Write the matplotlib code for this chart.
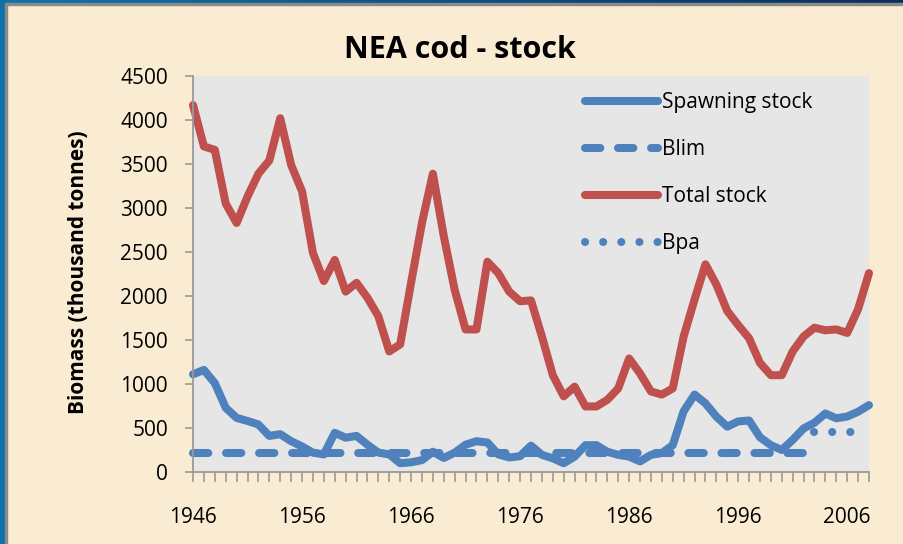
import numpy as np
import matplotlib
matplotlib.use("Agg")
import matplotlib.pyplot as plt
from matplotlib.patches import Rectangle

plt.rcParams["font.family"] = ["Open Sans", "DejaVu Sans"]

# -------------------------
# Data
# -------------------------
years = np.arange(1946, 2009)
spawning_stock = [1110, 1160, 1010, 730, 615, 580, 540, 410, 430, 350,
                  290, 220, 200, 445, 390, 410, 310, 220, 200, 100,
                  110, 135, 230, 160, 220, 310, 350, 335, 200, 165,
                  180, 300, 195, 155, 100, 175, 305, 305, 230, 195,
                  175, 120, 195, 215, 305, 690, 880, 780, 630, 515,
                  575, 585, 395, 305, 250, 365, 495, 560, 665, 610,
                  630, 685, 760]
total_stock = [4170, 3700, 3660, 3050, 2830, 3130, 3390, 3540, 4020, 3490,
               3190, 2490, 2170, 2410, 2050, 2150, 1980, 1770, 1370, 1450,
               2150, 2830, 3390, 2680, 2070, 1620, 1620, 2390, 2260, 2050,
               1940, 1950, 1540, 1100, 860, 970, 745, 745, 820, 950,
               1290, 1120, 915, 880, 950, 1540, 1960, 2360, 2130, 1830,
               1670, 1520, 1240, 1100, 1100, 1370, 1540, 1640, 1610, 1620,
               1580, 1850, 2260]
blim_years = np.arange(1946, 2004)
blim_value = 220
bpa_years = np.arange(2003, 2008)
bpa_value = 460
tick_years = [1946, 1956, 1966, 1976, 1986, 1996, 2006]
y_ticks = [0, 500, 1000, 1500, 2000, 2500, 3000, 3500, 4000, 4500]

blue = "#4F81BD"
red = "#C0504D"
beige = "#FAEBD3"

# -------------------------
# Figure
# -------------------------
fig = plt.figure(figsize=(9.04, 5.44), dpi=100)
fig.patch.set_facecolor(beige)

# slide frame: blue strips on top and left
W, H = 904, 544
grad_ax = fig.add_axes([0, 1 - 3 / H, 1, 3 / H])
grad_ax.imshow(np.linspace(0, 1, 256)[None, :], aspect="auto",
               cmap=matplotlib.colors.LinearSegmentedColormap.from_list(
                   "frame", ["#0E74AA", "#0B2F5E"]))
grad_ax.axis("off")
fig.patches.append(Rectangle((0, 1 - 5 / H), 1, 2 / H, transform=fig.transFigure,
                             color="#8A8A8A", zorder=5))
fig.patches.append(Rectangle((0, 0), 5 / W, 1, transform=fig.transFigure,
                             color="#0E72A8", zorder=6))
fig.patches.append(Rectangle((5 / W, 0), 2 / W, 1 - 3 / H, transform=fig.transFigure,
                             color="#8A8A8A", zorder=6))

ax = fig.add_axes([193 / W, 1 - 472 / H, 676 / W, 396 / H])
ax.set_facecolor("#E6E6E6")

lw = 5.8
ax.plot(years, spawning_stock, color=blue, lw=lw, solid_capstyle="round",
        solid_joinstyle="round", label="Spawning stock", clip_on=False)
ax.plot(blim_years, [blim_value] * len(blim_years), color=blue, lw=lw,
        linestyle=(0, (1.9, 2.2)), dash_capstyle="round", label="Blim", clip_on=False)
ax.plot(years, total_stock, color=red, lw=lw, solid_capstyle="round",
        solid_joinstyle="round", label="Total stock", clip_on=False)
ax.plot(bpa_years, [bpa_value] * len(bpa_years), color=blue, lw=lw,
        linestyle=(0, (0.01, 2.24)), dash_capstyle="round", label="Bpa", clip_on=False)

ax.set_xlim(years[0], years[-1])
ax.set_ylim(0, 4500)
ax.set_yticks(y_ticks)
ax.set_xticks(tick_years)
ax.set_xticks(years, minor=True)

for s in ["top", "right"]:
    ax.spines[s].set_visible(False)
for s in ["left", "bottom"]:
    ax.spines[s].set_color("#9A9A9A")
    ax.spines[s].set_linewidth(1.3)

ax.tick_params(axis="x", which="both", direction="out", length=7, width=1.2,
               color="#9A9A9A", labelsize=15, pad=18)
ax.tick_params(axis="y", direction="out", length=6, width=1.2,
               color="#9A9A9A", labelsize=15, pad=12)

fig.text(0.509, 1 - 50 / H, "NEA cod - stock", ha="center", va="center",
         fontsize=22, fontweight="bold")
fig.text(79 / W, 0.5, "Biomass (thousand tonnes)", rotation=90, ha="center",
         va="center", fontsize=15, fontweight="bold")

ax.legend(loc="upper left", bbox_to_anchor=(0.58, 0.96), frameon=False,
          fontsize=15, handlelength=3.5, handletextpad=0.2, labelspacing=1.25,
          borderpad=0, borderaxespad=0)

fig.savefig("out.png", dpi=100, facecolor=fig.get_facecolor())
